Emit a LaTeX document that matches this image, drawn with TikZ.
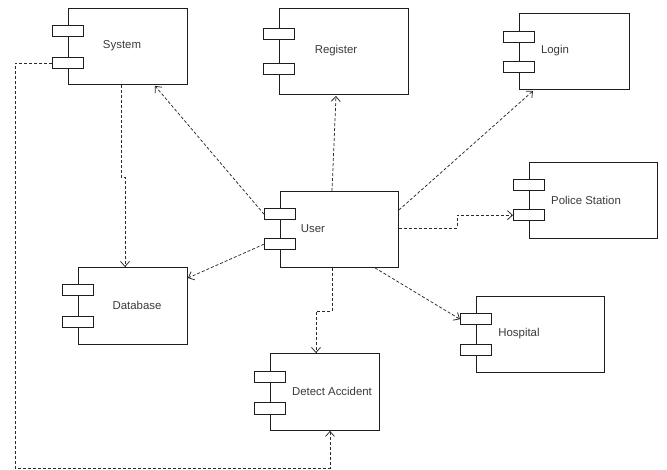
\documentclass[tikz,border=0pt]{standalone}
\usepackage{fontspec}
\setmainfont{Liberation Sans}
\usetikzlibrary{arrows.meta,calc}

\definecolor{edgegray}{HTML}{1E1E1E}
\definecolor{textgray}{HTML}{3A3A3A}
\definecolor{linkgray}{HTML}{2A2A2A}

\tikzset{
  compbox/.style={draw=edgegray, line width=0.9pt, fill=white, inner sep=0pt, rectangle},
  portbox/.style={draw=edgegray, line width=0.9pt, fill=white, inner sep=0pt, rectangle,
    minimum width=31pt, minimum height=11.5pt},
  comptext/.style={text=textgray, font=\fontsize{11.4}{13}\selectfont, inner sep=0pt},
  dep/.style={draw=linkgray, line width=0.75pt, dash pattern=on 3pt off 2pt,
    -{Straight Barb[length=5pt,width=9pt,line width=0.75pt]}},
}

% component box: name, left, top, right, bottom, port1 top, port2 top, text x, label
\newcommand\umlcomp[9]{%
  \node[compbox, anchor=north west, minimum width={#4-#2}, minimum height={#5-#3}] (#1) at (#2,#3) {};
  \node[portbox, anchor=north west] (#1p1) at (#2-16,#6) {};
  \node[portbox, anchor=north west] (#1p2) at (#2-16,#7) {};
  \node[comptext] (#1t) at (#8,{(#3+#5)/2}) {#9};
}

\begin{document}
\begin{tikzpicture}[x=1pt,y=-1pt]
  \useasboundingbox[fill=white] (0,0) rectangle (667,470);

  \umlcomp{sys}{68}{8}{187}{84}{25}{57}{122}{System}
  \umlcomp{reg}{279}{8}{408}{94}{28}{63}{336}{Register}
  \umlcomp{login}{519}{13}{629}{89}{31}{61}{555}{Login}
  \umlcomp{user}{280}{191}{398}{267}{208}{238}{313}{User}
  \umlcomp{police}{529}{162}{657}{238}{179}{209}{586}{Police Station}
  \umlcomp{db}{78}{267}{187}{344}{284}{316}{137}{Database}
  \umlcomp{hosp}{476}{296}{604}{372}{313}{344}{519}{Hospital}
  \umlcomp{det}{270}{353}{379}{430}{371}{402}{332}{Detect Accident}

  \coordinate (loopcorner) at (15,468);

  % dependencies leaving User
  \draw[dep] (userp1.west) -- ($(sys.south west)+(87,1)$);
  \draw[dep] ($(user.north west)+(52,0)$) -- ($(reg.south west)+(57,1)$);
  \draw[dep] ($(user.north east)+(0,19)$) -- ($(login.south west)+(14,1)$);
  \draw[dep] ($(user.north east)+(0,37)$) -- ++(58,0) |- (policep2.west);
  \draw[dep] ($(user.south west)+(95,0)$) -- (hospp1.west);
  \draw[dep] (userp2.west) -- ($(db.north east)+(0,11)$);
  \draw[dep] ($(user.south west)+(52,0)$) -- ++(0,43) -| ($(det.north west)+(46,0)$);

  % dependencies leaving System
  \draw[dep] ($(sys.south west)+(53,0)$) -- ++(0,92) -| ($(db.north west)+(47,0)$);
  \draw[dep] (sysp2.west) -| (loopcorner) -| ($(det.south west)+(60,0)$);
\end{tikzpicture}
\end{document}
